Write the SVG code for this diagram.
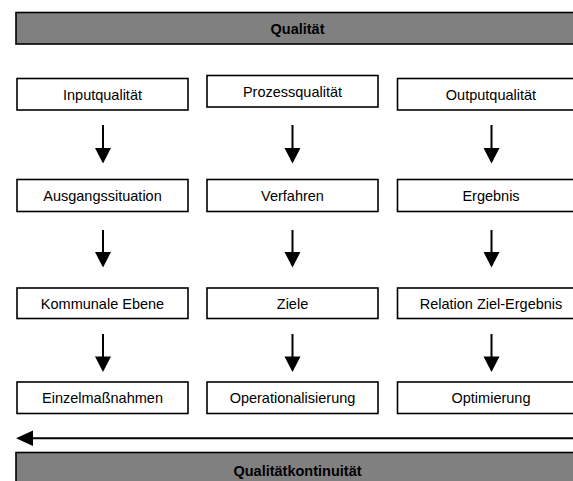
<svg xmlns="http://www.w3.org/2000/svg" width="573" height="481" viewBox="0 0 573 481">
<defs>
<style>
.box{fill:#fff;stroke:#000;stroke-width:1.6}
.bar{fill:#808080;stroke:#000;stroke-width:1.6}
.t{font-family:"Liberation Sans",Arial,sans-serif;font-size:14.5px;fill:#000;text-anchor:middle}
.b{font-family:"Liberation Sans",Arial,sans-serif;font-size:14.5px;font-weight:bold;fill:#000;text-anchor:middle}
.ln{stroke:#000;stroke-width:2;fill:none}
</style>
</defs>
<rect width="573" height="481" fill="#fff"/>
<g id="qualitaet"><rect class="bar" x="16" y="12.5" width="570" height="31.5"/><text class="b" x="297.5" y="33.5">Qualität</text></g>
<g id="n1"><rect class="box" x="17" y="78.5" width="171" height="31.5"/><text class="t" x="102.5" y="99.5">Inputqualität</text></g>
<g id="n2"><rect class="box" x="207" y="75.5" width="171" height="31.5"/><text class="t" x="292.5" y="96.5">Prozessqualität</text></g>
<g id="n3"><rect class="box" x="397.5" y="78.5" width="190" height="31.5"/><text class="t" x="491" y="99.5">Outputqualität</text></g>
<g id="n4"><rect class="box" x="17" y="179.5" width="171" height="32"/><text class="t" x="102.5" y="200.5">Ausgangssituation</text></g>
<g id="n5"><rect class="box" x="207" y="179.5" width="171" height="32"/><text class="t" x="292.5" y="200.5">Verfahren</text></g>
<g id="n6"><rect class="box" x="397.5" y="179.5" width="190" height="32"/><text class="t" x="491" y="200.5">Ergebnis</text></g>
<g id="n7"><rect class="box" x="17" y="288" width="171" height="30.5"/><text class="t" x="102.5" y="308.5">Kommunale Ebene</text></g>
<g id="n8"><rect class="box" x="207" y="288" width="171" height="30.5"/><text class="t" x="292.5" y="308.5">Ziele</text></g>
<g id="n9"><rect class="box" x="397.5" y="288" width="190" height="30.5"/><text class="t" x="491" y="308.5">Relation Ziel-Ergebnis</text></g>
<g id="n10"><rect class="box" x="17" y="382" width="171" height="31.5"/><text class="t" x="102.5" y="403">Einzelmaßnahmen</text></g>
<g id="n11"><rect class="box" x="207" y="382" width="171" height="31.5"/><text class="t" x="292.5" y="403">Operationalisierung</text></g>
<g id="n12"><rect class="box" x="397.5" y="382" width="190" height="31.5"/><text class="t" x="491" y="403">Optimierung</text></g>
<g id="kontinuitaet"><rect class="bar" x="16" y="452.5" width="570" height="40"/><text class="b" x="297.5" y="475.5">Qualitätkontinuität</text></g>
<g id="connectors">
<g fill="#000">
<path d="M103,125V150" class="ln"/><path d="M95,148H111L103,163.5z"/>
<path d="M292.5,125V150" class="ln"/><path d="M284.5,148H300.5L292.5,163.5z"/>
<path d="M491.5,125V150" class="ln"/><path d="M483.5,148H499.5L491.5,163.5z"/>
<path d="M103,230V254" class="ln"/><path d="M95,252H111L103,267.5z"/>
<path d="M292.5,230V254" class="ln"/><path d="M284.5,252H300.5L292.5,267.5z"/>
<path d="M491.5,230V254" class="ln"/><path d="M483.5,252H499.5L491.5,267.5z"/>
<path d="M103,334V358" class="ln"/><path d="M95,356.5H111L103,372z"/>
<path d="M292.5,334V358" class="ln"/><path d="M284.5,356.5H300.5L292.5,372z"/>
<path d="M491.5,334V358" class="ln"/><path d="M483.5,356.5H499.5L491.5,372z"/>
<path d="M573,438.3H30" class="ln" stroke-width="4"/><path d="M33,430.5V446L16,438.3z"/>
</g>
</g>
</svg>
